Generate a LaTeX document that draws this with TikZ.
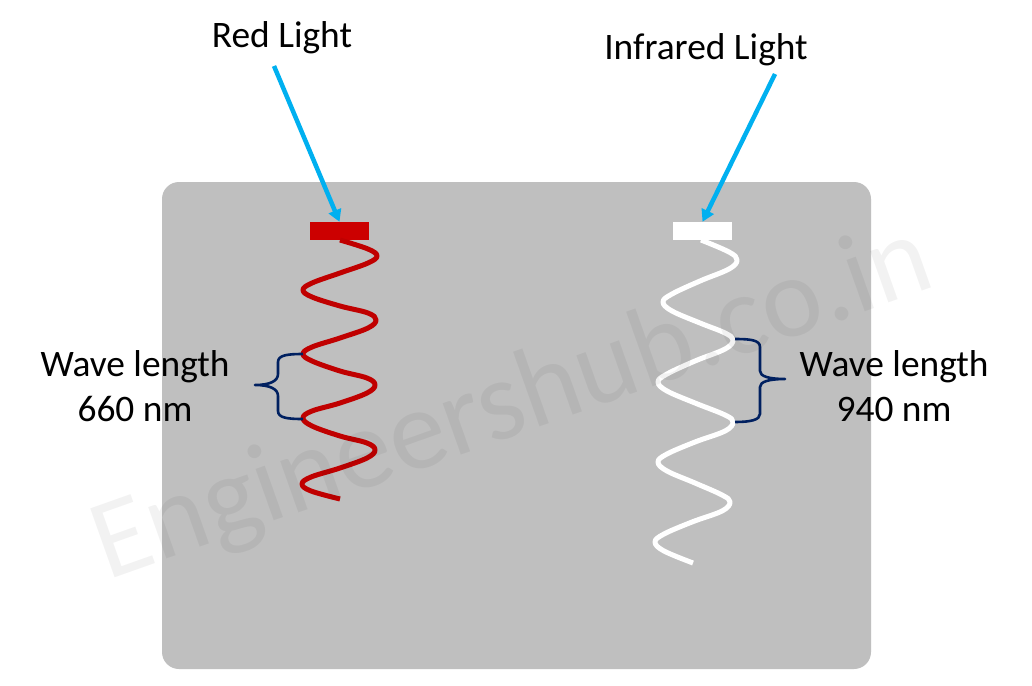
\documentclass[tikz,border=0pt]{standalone}
\usepackage{fontspec}
\setmainfont{Carlito}
\usetikzlibrary{arrows.meta}
\definecolor{panelgrey}{HTML}{BFBFBF}
\definecolor{ledred}{HTML}{CC0000}
\definecolor{wavered}{HTML}{C00000}
\definecolor{arrowcyan}{HTML}{00B0F0}
\definecolor{bracenavy}{HTML}{002060}
\tikzset{
  label text/.style={font=\fontsize{37.4}{45}\selectfont, text=black, inner sep=0pt, align=center},
  led/.style={minimum width=59pt, minimum height=18pt, inner sep=0pt, draw=none},
  pointer/.style={draw=arrowcyan, line width=4.5pt, -{Triangle[length=12pt,width=13pt]}, shorten >=0pt},
  wave/.style={line width=5pt, line cap=butt, line join=round},
  bracepath/.style={draw=bracenavy, line width=2.6pt, line join=round, fill=none},
}
\begin{document}
\begin{tikzpicture}[x=1pt,y=-1pt]
\useasboundingbox (0,0) rectangle (1032,685);
\fill[white] (0,0) rectangle (1032,685);
\node[draw=none, fill=panelgrey, rounded corners=17pt, minimum width=709pt, minimum height=487pt, inner sep=0pt] (panel) at (516.5,425.5) {};
\node[led, fill=ledred] (redled) at (339.5,231) {};
\node[led, fill=white] (irled) at (702.5,231) {};
\node[label text] (redlabel) at (282,38) {Red Light};
\node[label text] (irlabel) at (706,50) {Infrared Light};
\node[label text] (wl1) at (135,386) {Wave length\\660 nm};
\node[label text] (wl2) at (894,386) {Wave length\\940 nm};
\coordinate (redstart) at (274,66);
\coordinate (irstart) at (775,74);
\draw[pointer] (redstart) -- (redled.north);
\draw[pointer] (irstart) -- (irled.north);
\draw[wave, draw=wavered] plot[smooth, tension=0.62] coordinates {(340,240) (368,249) (377,256) (368,263) (340,273) (312,283) (303,290) (312,297) (340,306) (368,313) (376,320) (368,328) (340,338) (312,347) (303,354) (312,361) (340,371) (367,378) (375,385) (367,393) (340,403) (312,411) (303,418) (312,426) (340,436) (367,443) (375,450) (367,458) (340,468) (311,477) (302,484) (311,491) (340,499)};
\draw[wave, draw=white] plot[smooth, tension=0.62] coordinates {(701,240) (729,252) (737,260) (729,269) (700,281) (672,294) (663,302) (672,311) (700,323) (725,333) (733,340) (725,349) (695,361) (667,374) (658,382) (667,391) (695,403) (725,415) (733,422) (725,431) (695,442) (667,454) (658,462) (667,471) (695,483) (722,495) (730,502) (722,511) (692,522) (664,534) (655,542) (664,551) (693,563)};
\draw[bracepath] (303,354) .. controls (288,354) and (278,355) .. (278,362) -- (278,374) .. controls (278,381) and (270,385) .. (255,385) .. controls (270,385) and (278,389) .. (278,396) -- (278,411) .. controls (278,418) and (288,419) .. (303,419);
\draw[bracepath] (735,339) .. controls (750,339) and (760,340) .. (760,347) -- (760,371) .. controls (760,376) and (768,379) .. (785,379) .. controls (768,379) and (760,382) .. (760,387) -- (760,414) .. controls (760,420) and (750,422) .. (735,422);
\node[font=\fontsize{114}{114}\selectfont, text=black, opacity=0.05, rotate=19.5, inner sep=0pt] (watermark) at (513,405) {Engineershub.co.in};
\end{tikzpicture}
\end{document}
